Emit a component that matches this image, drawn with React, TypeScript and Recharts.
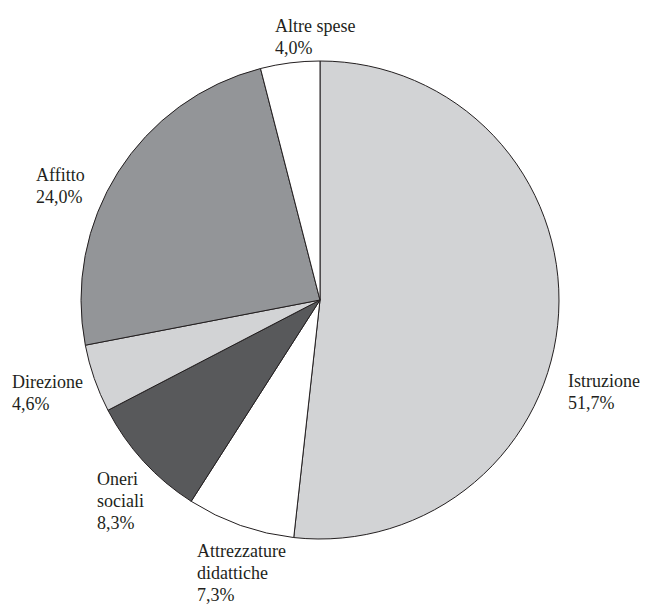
import { PieChart, Pie, Cell } from 'recharts'

const NAMES = ['Istruzione', 'Attrezzature didattiche', 'Oneri sociali', 'Direzione', 'Affitto', 'Altre spese']
const VALUES = [51.7, 7.3, 8.3, 4.6, 24.0, 4.0]
const LABEL_LINES = [
  ['Istruzione', '51,7%'],
  ['Attrezzature', 'didattiche', '7,3%'],
  ['Oneri', 'sociali', '8,3%'],
  ['Direzione', '4,6%'],
  ['Affitto', '24,0%'],
  ['Altre spese', '4,0%'],
]
const COLORS = ['#d2d3d5', '#ffffff', '#58595b', '#d2d3d5', '#939598', '#ffffff']

// label anchor (left x, first baseline) in page pixels
const LABEL_POS: Array<[number, number]> = [
  [568, 387],
  [197, 557],
  [97, 485],
  [12, 388],
  [36, 181],
  [275, 32],
]

const data = NAMES.map((name, i) => ({ name, value: VALUES[i] }))

const FONT = "'Times New Roman', Times, Tinos, 'Noto Serif', 'Liberation Serif', serif"

const renderLabel = ({ index }: any) => {
  const [x, y] = LABEL_POS[index]
  return (
    <text
      key={index}
      x={x}
      y={y}
      fill="#231f20"
      fontSize={18}
      style={{ fontFamily: FONT, fontSize: 18 }}
    >
      {LABEL_LINES[index].map((line, k) => (
        <tspan key={k} x={x} y={y + k * 22}>{line}</tspan>
      ))}
    </text>
  )
}

export default function App() {
  return (
    <div style={{ position: 'absolute', left: 0, top: 0, width: 645, height: 605, background: '#fff', fontFamily: FONT }}>
      <PieChart width={645} height={605} margin={{ top: 0, right: 0, bottom: 0, left: 0 }}>
        <Pie
          data={data}
          dataKey="value"
          cx={320}
          cy={300}
          outerRadius={239}
          startAngle={90}
          endAngle={-270}
          stroke="#231f20"
          strokeWidth={1}
          label={renderLabel}
          labelLine={false}
          isAnimationActive={false}
        >
          {data.map((_, idx) => <Cell key={idx} fill={COLORS[idx]} />)}
        </Pie>
      </PieChart>
    </div>
  )
}
